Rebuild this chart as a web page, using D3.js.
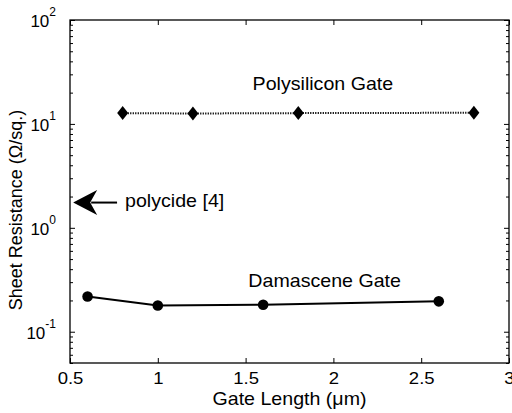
<!DOCTYPE html>
<html lang="en">
<head>
<meta charset="utf-8">
<title>Sheet resistance vs gate length</title>
<script src="https://cdnjs.cloudflare.com/ajax/libs/d3/7.8.5/d3.min.js"></script>
<style>
  body { margin: 0; background: #fff; }
  svg text { font-family: "Liberation Sans", Arial, Helvetica, sans-serif; fill: #000; }
</style>
</head>
<body>
<script>
// data
var polyLength = [0.8, 1.2, 1.8, 2.8];
var polyRs = [12.7, 12.6, 12.7, 12.8];
var damaLength = [0.6, 1.0, 1.6, 2.6];
var damaRs = [0.218, 0.179, 0.182, 0.196];
var polycideRs = 1.75;            // arrow at the y axis
var xTicks = [0.5, 1, 1.5, 2, 2.5, 3];
var yDecades = [0.1, 1, 10, 100];
var yExp = ["-1", "0", "1", "2"];

var W = 512, H = 413;
var margin = {top: 20, right: 3, bottom: 50, left: 70};
var stretch = 1.09;   // text in the figure is a bit wide

var svg = d3.select("body").append("svg").attr("width", W).attr("height", H);

var x = d3.scaleLinear().domain([0.5, 3]).range([margin.left, W - margin.right]);
var y = d3.scaleLog().domain([0.05, 100]).range([H - margin.bottom, margin.top]);

// minor log ticks
var yMinor = [];
[0.01, 0.1, 1, 10].forEach(function(d) {
    for (var k = 2; k <= 9; k++) {
        var v = d * k;
        if (v >= 0.05 && v <= 100) yMinor.push(v);
    }
});

function styleAxis(g) {
    g.select(".domain").remove();
    g.selectAll("line").attr("stroke", "#000").attr("stroke-width", 1);
}

// x axis bottom
var gx = svg.append("g")
    .attr("transform", "translate(0," + y.range()[0] + ")")
    .call(d3.axisBottom(x).tickValues(xTicks).tickSize(-5).tickFormat(d3.format("")))
    .call(styleAxis);
gx.selectAll("text")
    .attr("dy", null).attr("y", 21)
    .attr("font-size", 17)
    .attr("transform", "scale(" + stretch + ",1)");

// x axis top
svg.append("g")
    .attr("transform", "translate(0," + y.range()[1] + ")")
    .call(d3.axisTop(x).tickValues(xTicks).tickSize(-5).tickFormat(""))
    .call(styleAxis);

// y axes, minor and major ticks on both sides
[[d3.axisLeft, x.range()[0]], [d3.axisRight, x.range()[1]]].forEach(function(a) {
    svg.append("g")
        .attr("transform", "translate(" + a[1] + ",0)")
        .call(a[0](y).tickValues(yMinor).tickSize(-3).tickFormat(""))
        .call(styleAxis);
    svg.append("g")
        .attr("class", a[0] === d3.axisLeft ? "ymajor" : "")
        .attr("transform", "translate(" + a[1] + ",0)")
        .call(a[0](y).tickValues(yDecades).tickSize(-5).tickFormat(""))
        .call(styleAxis);
});

// y tick labels as 10 with superscript
var ylab = svg.append("g");
yDecades.forEach(function(d, i) {
    var t = ylab.append("text")
        .attr("text-anchor", "end")
        .attr("x", x.range()[0] - 14)
        .attr("y", y(d) + 7)
        .attr("font-size", 17);
    t.append("tspan").text("10");
    t.append("tspan").attr("font-size", 12).attr("dy", -11).text(yExp[i]);
});

// frame
svg.append("rect")
    .attr("x", x.range()[0]).attr("y", y.range()[1])
    .attr("width", x.range()[1] - x.range()[0])
    .attr("height", y.range()[0] - y.range()[1])
    .attr("fill", "none").attr("stroke", "#000").attr("stroke-width", 1.3);

// polysilicon gate: dotted line with diamonds
var poly = polyLength.map(function(d, i) { return [d, polyRs[i]]; });
var dama = damaLength.map(function(d, i) { return [d, damaRs[i]]; });
var line = d3.line().x(function(d) { return x(d[0]); }).y(function(d) { return y(d[1]); });

svg.append("path")
    .attr("d", line(poly))
    .attr("fill", "none").attr("stroke", "#000")
    .attr("stroke-width", 2).attr("stroke-dasharray", "1.2,1.3");

svg.selectAll(".diamond")
    .data(poly).enter().append("path")
    .attr("class", "diamond")
    .attr("d", function(d) {
        var cx = x(d[0]), cy = y(d[1]);
        return "M" + cx + "," + (cy - 7) + "L" + (cx + 5.5) + "," + cy +
               "L" + cx + "," + (cy + 7) + "L" + (cx - 5.5) + "," + cy + "Z";
    })
    .attr("fill", "#000");

// damascene gate: solid line with dots
svg.append("path")
    .attr("d", line(dama))
    .attr("fill", "none").attr("stroke", "#000").attr("stroke-width", 2);

svg.selectAll(".dot")
    .data(dama).enter().append("circle")
    .attr("class", "dot")
    .attr("cx", function(d) { return x(d[0]); })
    .attr("cy", function(d) { return y(d[1]); })
    .attr("r", 5.3)
    .attr("fill", "#000");

// labels in plot
function label(tx, ty, str, anchor, size) {
    svg.append("text")
        .attr("transform", "translate(" + tx + "," + ty + ") scale(" + stretch + ",1)")
        .attr("text-anchor", anchor)
        .attr("font-size", size)
        .text(str);
}
label(x(1.94), y(21.2), "Polysilicon Gate", "middle", 18);
label(x(1.95), y(0.271), "Damascene Gate", "middle", 18);

// polycide arrow
var ay = y(polycideRs), ax0 = x(0.518), ax1 = x(0.768);
svg.append("line")
    .attr("x1", ax0 + 18).attr("x2", ax1)
    .attr("y1", ay).attr("y2", ay)
    .attr("stroke", "#000").attr("stroke-width", 2);
svg.append("path")
    .attr("d", "M" + ax0 + "," + ay + "L" + (ax0 + 24) + "," + (ay - 12.5) +
               "L" + (ax0 + 17) + "," + ay + "L" + (ax0 + 24) + "," + (ay + 12.5) + "Z")
    .attr("fill", "#000");
label(ax1 + 8, ay + 4, "polycide [4]", "start", 18);

// axis titles
label((x.range()[0] + x.range()[1]) / 2, H - 8, "Gate Length (\u03BCm)", "middle", 18);
svg.append("text")
    .attr("transform", "translate(22,210) rotate(-90)")
    .attr("text-anchor", "middle")
    .attr("font-size", 18)
    .text("Sheet Resistance (\u03A9/sq.)");
</script>
</body>
</html>
